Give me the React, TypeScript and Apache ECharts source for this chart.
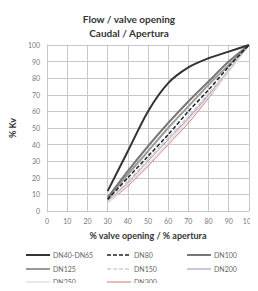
import React, { useEffect, useRef } from "react";
import * as echarts from "echarts";

const xValues = [30, 40, 50, 60, 70, 80, 90, 100];
const dn40_65 = [12, 36, 60, 77, 86.5, 92, 96, 100];
const dn80 = [7, 20, 33, 46, 60, 73, 87, 100];
const dn100 = [8, 24, 39, 53, 66, 78, 90, 100];
const dn125 = [7, 22, 36, 50, 63, 76, 88, 100];
const dn150 = [6, 18, 31, 44, 57, 71, 85, 100];
const dn200 = [6, 17, 30, 43, 56, 70, 85, 100];
const dn250 = [5, 16, 28, 41, 55, 69, 84, 100];
const dn300 = [5, 15, 27, 40, 53, 68, 84, 100];

const seriesNames = ["DN40-DN65", "DN80", "DN100", "DN125", "DN150", "DN200", "DN250", "DN300"];
const seriesData = [dn40_65, dn80, dn100, dn125, dn150, dn200, dn250, dn300];
const seriesStyles = [
  { color: "#333333", width: 2, type: "solid" },
  { color: "#222222", width: 1.5, type: [4, 2] },
  { color: "#777777", width: 2, type: "solid" },
  { color: "#9a9a9a", width: 2, type: "solid" },
  { color: "#cfcfcf", width: 1.5, type: [4, 2] },
  { color: "#9090c0", width: 1, type: "solid" },
  { color: "#e6dede", width: 1.5, type: "solid" },
  { color: "#e07070", width: 1, type: "solid" },
];

const legendLefts = [26, 107, 187];
const legendTops = [255, 269, 282];

export default function App() {
  const ref = useRef<HTMLDivElement>(null);
  useEffect(() => {
    if (!ref.current) return;
    const chart = echarts.init(ref.current, null, { renderer: "svg" });
    const font = "Lato, 'Open Sans', sans-serif";
    chart.setOption({
      animation: false,
      backgroundColor: "#ffffff",
      title: {
        text: "Flow / valve opening\nCaudal / Apertura",
        left: "center",
        top: 7,
        textStyle: { fontFamily: font, fontSize: 10, fontWeight: "bold", color: "#333", lineHeight: 14 },
      },
      grid: { left: 44, right: 7, top: 45, bottom: 80, containLabel: false },
      xAxis: {
        type: "value",
        min: 0,
        max: 100,
        interval: 10,
        name: "% valve opening / % apertura",
        nameLocation: "middle",
        nameGap: 20,
        nameTextStyle: { fontFamily: font, fontSize: 9, fontWeight: "bold", color: "#333" },
        axisLine: { show: true, lineStyle: { color: "#c8c8c8" } },
        axisTick: { show: false },
        axisLabel: { fontFamily: font, fontSize: 7, color: "#777", margin: 6 },
        splitLine: { show: true, lineStyle: { color: "#c8c8c8", width: 1 } },
      },
      yAxis: {
        type: "value",
        min: 0,
        max: 100,
        interval: 10,
        name: "% Kv",
        nameLocation: "middle",
        nameGap: 28,
        nameTextStyle: { fontFamily: font, fontSize: 9, fontWeight: "bold", color: "#333" },
        axisLine: { show: true, lineStyle: { color: "#c8c8c8" } },
        axisTick: { show: false },
        axisLabel: { fontFamily: font, fontSize: 7, color: "#777", margin: 7 },
        splitLine: { show: true, lineStyle: { color: "#c8c8c8", width: 1 } },
      },
      graphic: seriesNames.map((name, i) => {
        const x = legendLefts[i % 3];
        const y = legendTops[Math.floor(i / 3)];
        const st = seriesStyles[i];
        return {
          type: "group",
          x,
          y,
          children: [
            {
              type: "line",
              shape: { x1: 0, y1: 0, x2: 24, y2: 0 },
              style: { stroke: st.color, lineWidth: st.width, lineDash: Array.isArray(st.type) ? st.type : null },
            },
            {
              type: "text",
              x: 27,
              y: 0,
              style: { text: name, fontFamily: font, fontSize: 7, fill: "#666", verticalAlign: "middle", align: "left" },
            },
          ],
        };
      }),
      series: seriesNames.map((name, i) => ({
        name,
        type: "line",
        data: xValues.map((x, j) => [x, seriesData[i][j]]),
        smooth: 0.3,
        showSymbol: false,
        symbol: "none",
        z: 10 - i,
        itemStyle: { color: seriesStyles[i].color },
        lineStyle: { color: seriesStyles[i].color, width: seriesStyles[i].width, type: seriesStyles[i].type },
      })),
    });
    return () => chart.dispose();
  }, []);
  return <div ref={ref} style={{ width: 258, height: 291, margin: -8 }} />;
}
